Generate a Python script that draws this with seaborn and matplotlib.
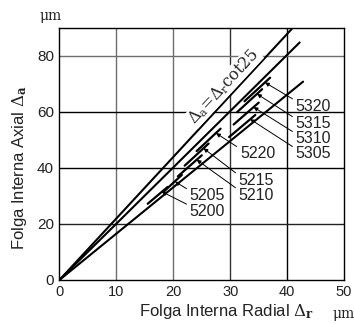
import matplotlib
matplotlib.use("Agg")
import matplotlib.pyplot as plt
import seaborn as sns
import pandas as pd

# ---- data ----
# long reference lines from the origin (end points)
line_names = ["cot25", "upper", "lower"]
line_x_end = [40.8, 42.2, 42.8]
line_y_end = [89.6, 84.8, 70.8]

# bearing series: short segments, arrow tips, label positions
bearings = ["5320", "5315", "5310", "5305", "5220", "5215", "5210", "5205", "5200"]
seg_x0 = [32.5, 31.2, 30.6, 29.8, 24.1, 22.0, 20.8, 18.2, 15.5]
seg_y0 = [63.8, 59.9, 55.5, 51.0, 46.0, 40.8, 37.0, 31.3, 27.2]
seg_x1 = [37.0, 35.6, 35.0, 34.4, 28.3, 26.2, 25.0, 21.5, 19.0]
seg_y1 = [72.2, 68.1, 63.3, 58.9, 54.0, 48.7, 44.5, 37.5, 33.2]
tip_x = [36.1, 34.7, 34.1, 33.5, 27.5, 25.3, 24.1, 20.3, 18.0]
tip_y = [70.5, 66.4, 61.7, 57.4, 52.4, 47.0, 42.9, 35.1, 31.5]
lab_x = [41.5, 41.5, 41.5, 41.5, 31.7, 31.5, 31.5, 22.9, 22.9]
lab_y = [62.1, 55.7, 50.4, 45.0, 45.0, 35.5, 30.2, 30.0, 24.6]

x_ticks = [0, 10, 20, 30, 40, 50]
y_ticks = [0, 20, 40, 60, 80]

sns.set_style("white")
plt.rcParams["font.family"] = ["Liberation Sans", "DejaVu Sans"]
plt.rcParams["mathtext.fontset"] = "dejavuserif"

fig = plt.figure(figsize=(3.54, 3.24), dpi=100)
ax = fig.add_axes([0.168, 0.136, 0.804, 0.778])

# grid lines (mixed grey / black as in the reference)
vgrid_col = {10: "#6e6e6e", 20: "#6e6e6e", 30: "#333333", 40: "#000000"}
hgrid_col = {20: "#222222", 40: "#000000", 60: "#000000", 80: "#6e6e6e"}
for v, c in vgrid_col.items():
    ax.axvline(v, color=c, lw=1.0, zorder=1)
for h, c in hgrid_col.items():
    ax.axhline(h, color=c, lw=1.0, zorder=1)

# long lines
rows = []
for n, xe, ye in zip(line_names, line_x_end, line_y_end):
    rows.append({"name": n, "x": 0.0, "y": 0.0})
    rows.append({"name": n, "x": xe, "y": ye})
df_lines = pd.DataFrame(rows)
sns.lineplot(data=df_lines, x="x", y="y", units="name", estimator=None,
             color="black", lw=1.5, ax=ax, legend=False, zorder=3)

# short segments
seg_rows = []
for b, a0, b0, a1, b1 in zip(bearings, seg_x0, seg_y0, seg_x1, seg_y1):
    seg_rows.append({"b": b, "x": a0, "y": b0})
    seg_rows.append({"b": b, "x": a1, "y": b1})
df_seg = pd.DataFrame(seg_rows)
sns.lineplot(data=df_seg, x="x", y="y", units="b", estimator=None,
             color="black", lw=1.6, ax=ax, legend=False, zorder=3)

# leaders with arrows and labels
for b, tx, ty, lx, ly in zip(bearings, tip_x, tip_y, lab_x, lab_y):
    ax.annotate(b, xy=(tx, ty), xytext=(lx, ly), ha="left", va="center",
                fontsize=11.5, color="#222222",
                arrowprops=dict(arrowstyle="-|>", color="black", lw=0.7,
                                mutation_scale=6, shrinkA=0, shrinkB=0,
                                relpos=(0.0, 0.85)), zorder=4)

# formula annotation along the steep line
ax.text(28.9, 69.1, r"$\Delta_{\rm a}$=$\Delta_{\rm r}$cot25", rotation=47,
        rotation_mode="anchor", ha="center", va="center", fontsize=11.5,
        family="DejaVu Serif", zorder=4,
        bbox=dict(facecolor="white", edgecolor="none", pad=0.3))

ax.set_xlim(0, 50)
ax.set_ylim(0, 90)
ax.set_xticks(x_ticks)
ax.set_yticks(y_ticks)
ax.set_xticklabels([str(t) for t in x_ticks])
ax.set_yticklabels([str(t) for t in y_ticks])
ax.tick_params(axis="x", length=0, pad=4, labelsize=10.5, colors="#222222")
ax.tick_params(axis="y", length=0, pad=4, labelsize=11, colors="#222222")
for s in ax.spines.values():
    s.set_color("black")
    s.set_linewidth(1.0)

ax.set_xlabel(r"Folga Interna Radial $\mathit{\Delta}_\mathbf{r}$", fontsize=12,
              color="#222222")
ax.set_ylabel(r"Folga Interna Axial $\mathit{\Delta}_\mathbf{a}$", fontsize=12,
              color="#222222")
ax.xaxis.set_label_coords(0.585, -0.125)
ax.yaxis.set_label_coords(-0.14, 0.446)
ax.xaxis.label.set_va("center")
ax.yaxis.label.set_va("center")

fig.text(0.142, 0.93, "μm", ha="center", va="bottom", fontsize=10,
         family="DejaVu Serif", color="#222222")
fig.text(0.972, 0.008, "μm", ha="center", va="bottom", fontsize=10,
         family="DejaVu Serif", color="#222222")

fig.savefig("out.png", dpi=100)
